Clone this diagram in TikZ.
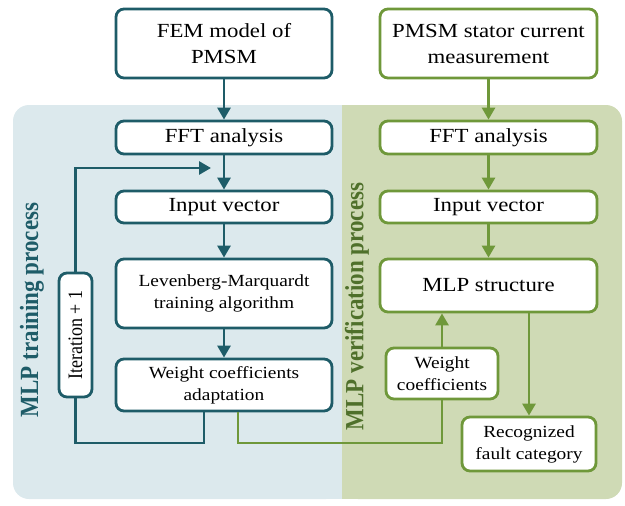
\documentclass[tikz,border=0pt]{standalone}
\usepackage{fontspec}
\setmainfont[FakeStretch=1.14]{Liberation Serif}
\newfontfamily\rotfont{Liberation Serif}
\usetikzlibrary{arrows.meta}
\definecolor{teal1}{HTML}{1E5C68}
\definecolor{grn1}{HTML}{6F983A}
\definecolor{bgblue}{HTML}{DCE9ED}
\definecolor{bggreen}{HTML}{CFDAB5}
\definecolor{lblgreen}{HTML}{4F702B}
\begin{document}
\begin{tikzpicture}[x=1pt,y=-1pt,
  box/.style={draw, line width=2.8pt, fill=white, rounded corners=8pt, align=center, inner sep=0pt,
    font=\fontsize{20}{26}\selectfont},
  smalltext/.style={font=\fontsize{17}{22}\selectfont},
  tbox/.style={box, draw=teal1},
  gbox/.style={box, draw=grn1},
  tline/.style={draw=teal1, line width=2.8pt},
  gline/.style={draw=grn1, line width=2.8pt},
  tarr/.style={tline, -{Triangle[length=12pt,width=13pt]}},
  garr/.style={gline, -{Triangle[length=12pt,width=13pt]}},
  sidelabel/.style={rotate=90, font=\rotfont\bfseries\fontsize{23}{26}\selectfont}
]
\useasboundingbox (0,0) rectangle (625,506);
% backgrounds
\fill[bgblue, rounded corners=16pt] (13,105) rectangle (342,499);
\fill[bgblue] (300,105) rectangle (342,499);
\fill[bggreen, rounded corners=16pt] (342,105) rectangle (622,499);
\fill[bggreen] (342,105) rectangle (380,499);

% side labels
\node[sidelabel, text=teal1] (lbltrain) at (32,310) {\scalebox{1}[1.14]{MLP training process}};
\node[sidelabel, text=lblgreen] (lblver) at (357,306.5) {\scalebox{1}[1.14]{MLP verification process}};

% left column
\node[tbox, minimum width=216pt, minimum height=69pt] (fem) at (224,43.5) {FEM model of\\PMSM};
\node[tbox, minimum width=216pt, minimum height=33pt] (fftl) at (224,137.5) {FFT analysis};
\node[tbox, minimum width=216pt, minimum height=32pt] (inl) at (224,207) {Input vector};
\node[tbox, smalltext, minimum width=216pt, minimum height=69pt] (lev) at (224,293.5) {Levenberg-Marquardt\\training algorithm};
\node[tbox, smalltext, minimum width=216pt, minimum height=52pt] (wca) at (224,385) {Weight coefficients\\adaptation};
\node[tbox, minimum width=33pt, minimum height=124pt] (iter) at (75.5,335) {};
\node[rotate=90, font=\rotfont\fontsize{18}{21}\selectfont] (itertext) at (iter.center) {\scalebox{1}[1.14]{Iteration + 1}};

% right column
\node[gbox, minimum width=217pt, minimum height=69pt] (pmsm) at (488.5,43.5) {PMSM stator current\\measurement};
\node[gbox, minimum width=217pt, minimum height=33pt] (fftr) at (488.5,137.5) {FFT analysis};
\node[gbox, minimum width=217pt, minimum height=32pt] (inr) at (488.5,207) {Input vector};
\node[gbox, minimum width=217pt, minimum height=53pt] (mlp) at (488.5,285.5) {MLP structure};
\node[gbox, smalltext, minimum width=112pt, minimum height=51pt] (wc) at (442,373.5) {Weight\\coefficients};
\node[gbox, smalltext, minimum width=134pt, minimum height=54pt] (rec) at (529,444) {Recognized\\fault category};

% left arrows
\draw[tarr] (fem) -- (fftl);
\draw[tarr] (fftl) -- (inl);
\draw[tarr] (inl) -- (lev);
\draw[tarr] (lev) -- (wca);
\coordinate (lb) at (204,443);
\coordinate (lt) at (211,168);
\draw[tline] (wca.south -| lb) -- (lb) -- (iter.south |- lb) -- (iter.south);
\draw[tarr] (iter.north) -- (iter.north |- lt) -- (lt);

% right arrows
\draw[garr] (pmsm) -- (fftr);
\draw[garr] (fftr) -- (inr);
\draw[garr] (inr) -- (mlp);
\coordinate (gb) at (238,443);
\draw[gline] (wca.south -| gb) -- (gb) -- (wc.south |- gb) -- (wc.south);
\draw[garr] (wc.north) -- (wc.north |- mlp.south);
\draw[garr] (mlp.south -| rec.north) -- (rec.north);
\end{tikzpicture}
\end{document}
